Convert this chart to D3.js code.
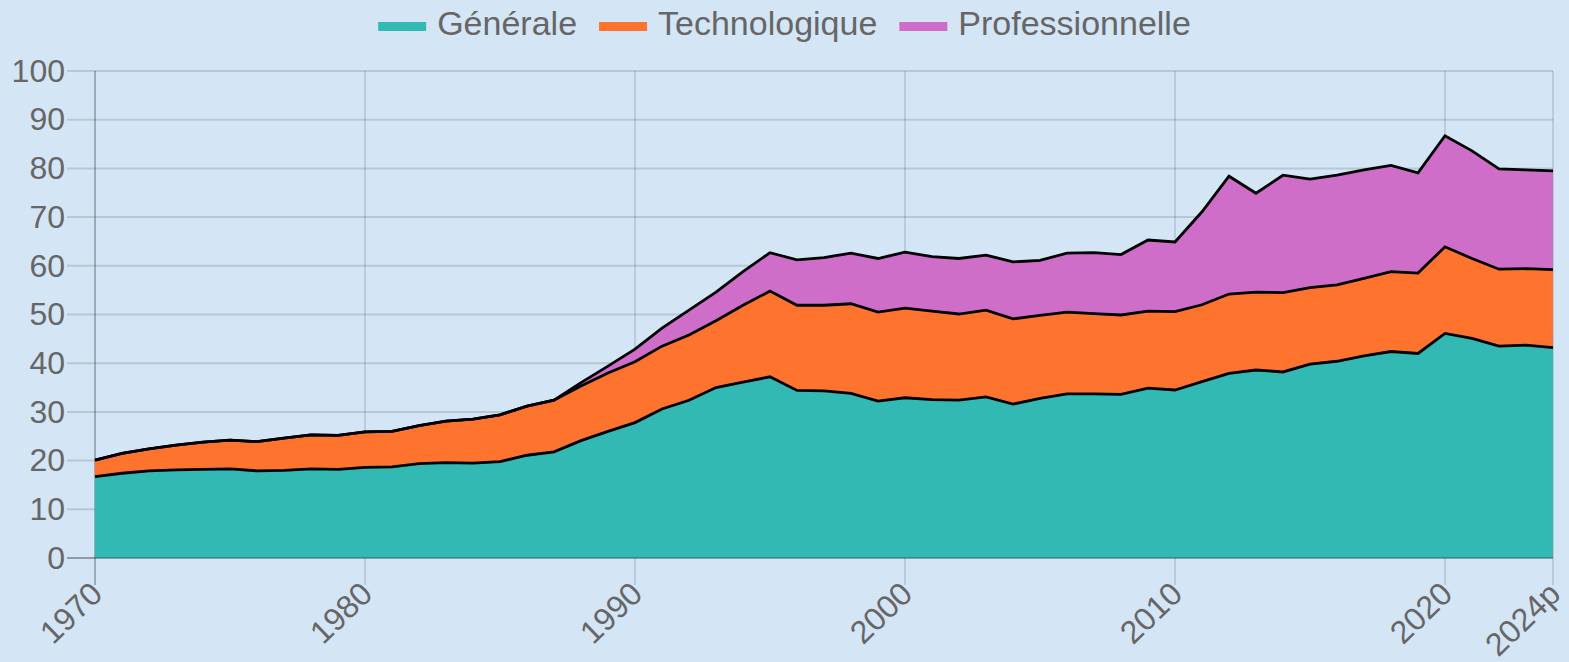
<!DOCTYPE html>
<html>
<head>
<meta charset="utf-8">
<script src="https://cdn.jsdelivr.net/npm/d3@7"></script>
<style>
  body { margin: 0; background: #d4e5f6; }
  svg { display: block; font-family: "Liberation Sans", Arial, sans-serif; }
</style>
</head>
<body>
<div id="chart"></div>
<script>
// data (share of a generation, in %)
const years = ["1970","1971","1972","1973","1974","1975","1976","1977","1978","1979",
  "1980","1981","1982","1983","1984","1985","1986","1987","1988","1989",
  "1990","1991","1992","1993","1994","1995","1996","1997","1998","1999",
  "2000","2001","2002","2003","2004","2005","2006","2007","2008","2009",
  "2010","2011","2012","2013","2014","2015","2016","2017","2018","2019",
  "2020","2021","2022","2023","2024p"];
const generale = [16.7,17.4,17.9,18.1,18.2,18.3,17.9,18.0,18.3,18.2,
  18.6,18.7,19.4,19.6,19.5,19.8,21.1,21.8,24.1,26.0,
  27.8,30.6,32.4,35.0,36.1,37.2,34.4,34.3,33.8,32.2,
  32.9,32.5,32.4,33.1,31.6,32.8,33.7,33.7,33.6,34.9,
  34.5,36.2,37.9,38.6,38.2,39.8,40.4,41.5,42.4,42.0,
  46.1,45.1,43.5,43.7,43.2];
const technologique = [3.4,4.1,4.5,5.1,5.6,5.9,6.0,6.6,7.0,7.0,
  7.3,7.3,7.8,8.5,9.0,9.6,10.1,10.6,11.2,12.0,
  12.5,12.9,13.4,13.7,15.8,17.6,17.5,17.6,18.4,18.3,
  18.4,18.2,17.7,17.8,17.5,17.0,16.8,16.5,16.3,15.8,
  16.1,15.8,16.3,16.0,16.3,15.7,15.7,15.9,16.4,16.5,
  17.8,16.4,15.8,15.7,16.0];
const professionnelle = [0,0,0,0,0,0,0,0,0,0,
  0,0,0,0,0,0,0,0,0.7,1.4,
  2.6,3.7,5.1,5.9,6.9,7.9,9.3,9.8,10.4,11.0,
  11.5,11.2,11.4,11.3,11.7,11.3,12.1,12.5,12.4,14.6,
  14.3,19.1,24.2,20.3,24.1,22.3,22.5,22.3,21.8,20.6,
  22.8,22.1,20.6,20.3,20.3];
const seriesNames = ["Générale", "Technologique", "Professionnelle"];
const seriesColors = ["#33b9b3", "#fe742e", "#cf6ec9"];
const xTickLabels = ["1970","1980","1990","2000","2010","2020","2024p"];
const yTicks = [0,10,20,30,40,50,60,70,80,90,100];

const W = 1569, H = 662;
const margin = {top: 71, right: 16, bottom: 104, left: 95};
const width = W - margin.left - margin.right;
const height = H - margin.top - margin.bottom;

const rows = years.map((yr, i) => ({
  year: yr,
  "Générale": generale[i],
  "Technologique": technologique[i],
  "Professionnelle": professionnelle[i]
}));
const stacked = d3.stack().keys(seriesNames)(rows);

const svg = d3.select("#chart").append("svg")
  .attr("width", W)
  .attr("height", H);
svg.append("rect").attr("width", W).attr("height", H).attr("fill", "#d4e5f6");

const g = svg.append("g")
  .attr("transform", "translate(" + margin.left + "," + margin.top + ")");

const x = d3.scalePoint().domain(years).range([0, width]);
const y = d3.scaleLinear().domain([0, 100]).range([height, 0]);

// grid
g.append("g").selectAll("line").data(yTicks).join("line")
  .attr("x1", -28).attr("x2", width)
  .attr("y1", d => y(d)).attr("y2", d => y(d))
  .attr("stroke", "rgba(0,0,0,0.13)").attr("stroke-width", 2);
g.append("g").selectAll("line").data(xTickLabels).join("line")
  .attr("x1", d => x(d)).attr("x2", d => x(d))
  .attr("y1", 0).attr("y2", height + 27)
  .attr("stroke", d => d === "1970" ? "rgba(0,0,0,0.25)" : "rgba(0,0,0,0.11)")
  .attr("stroke-width", 2);

// areas
const area = d3.area()
  .x(d => x(d.data.year))
  .y0(d => y(d[0]))
  .y1(d => y(d[1]));
const line = d3.line()
  .x(d => x(d.data.year))
  .y(d => y(d[1]));

g.append("g").selectAll("path").data(stacked).join("path")
  .attr("fill", (d, i) => seriesColors[i])
  .attr("d", area);
g.append("g").selectAll("path").data(stacked).join("path")
  .attr("fill", "none")
  .attr("stroke", "#000")
  .attr("stroke-width", 2.8)
  .attr("stroke-linejoin", "miter")
  .attr("d", line);

// baseline over the fill
g.append("line")
  .attr("x1", -28).attr("x2", width)
  .attr("y1", height).attr("y2", height)
  .attr("stroke", "rgba(0,0,0,0.22)").attr("stroke-width", 2);

// axes (labels only, lines drawn above)
const yAxis = g.append("g")
  .call(d3.axisLeft(y).tickValues(yTicks).tickSize(0).tickPadding(30));
yAxis.select(".domain").remove();
yAxis.selectAll("text")
  .attr("fill", "#666").attr("font-size", 32)
  .attr("font-family", "Liberation Sans, Arial, sans-serif");

const xAxis = g.append("g")
  .attr("transform", "translate(0," + height + ")")
  .call(d3.axisBottom(x).tickValues(xTickLabels).tickSize(0));
xAxis.select(".domain").remove();
xAxis.selectAll("text")
  .attr("fill", "#666").attr("font-size", 32)
  .attr("font-family", "Liberation Sans, Arial, sans-serif")
  .attr("text-anchor", "end")
  .attr("x", 0).attr("y", 0).attr("dy", "0.35em")
  .attr("transform", "translate(1,30) rotate(-44)");

// legend
const legend = svg.append("g");
const items = legend.selectAll("g").data(seriesNames).join("g");
items.append("rect")
  .attr("width", 48).attr("height", 9)
  .attr("y", 22)
  .attr("fill", (d, i) => seriesColors[i]);
items.append("text")
  .attr("x", 59).attr("y", 35)
  .attr("fill", "#666").attr("font-size", 34)
  .text(d => d);
const widths = [];
items.each(function () {
  const tw = d3.select(this).select("text").node().getComputedTextLength();
  widths.push(59 + tw);
});
const total = d3.sum(widths) + 22 * (widths.length - 1);
let cx = (W - total) / 2;
items.attr("transform", (d, i) => {
  const t = "translate(" + cx + ",0)";
  cx += widths[i] + 22;
  return t;
});
</script>
</body>
</html>
